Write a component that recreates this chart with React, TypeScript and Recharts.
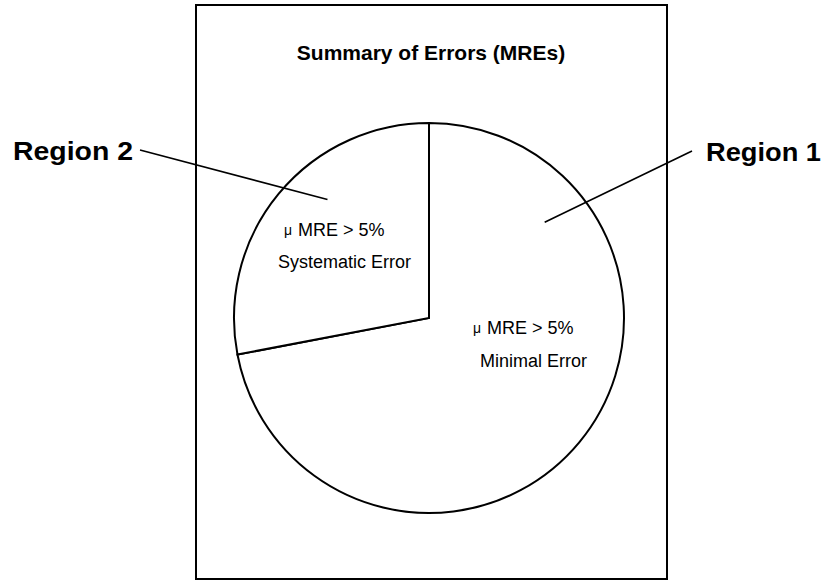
// Pie summary of MRE error regions, redrawn from a scanned figure
import { PieChart, Pie } from "recharts";

const regions = ["Region 1", "Region 2"];
const shares = [72, 28];
const criteria = ["MRE > 5%", "MRE > 5%"];
const descriptions = ["Minimal Error", "Systematic Error"];

const data = regions.map((name, i) => ({
  name,
  value: shares[i],
  criterion: criteria[i],
  description: descriptions[i],
}));

const FONT = '"Liberation Sans", Arial, Helvetica, sans-serif';

// polar point in screen space, angle in degrees counter-clockwise from 3 o'clock
function polar(cx: number, cy: number, r: number, deg: number) {
  const a = (deg * Math.PI) / 180;
  return { x: cx + r * Math.cos(a), y: cy - r * Math.sin(a) };
}

function RegionLabel(props: any) {
  const { cx, cy, outerRadius, index, payload } = props;
  const item = payload?.payload ?? payload ?? data[index];
  const left = index === 1;

  // leader line runs from inside the slice out to the region name
  const inner = left
    ? polar(cx, cy, outerRadius * 0.8, 130.6)
    : polar(cx, cy, outerRadius * 0.77, 39.6);
  const outer = left ? { x: 140, y: 150 } : { x: 692, y: 151 };
  const textX = left ? 133 : 706;
  const textY = left ? 151 : 152;

  // the two description lines inside each slice
  const critX = left ? cx - 145 : cx + 44;
  const critY = left ? cy - 88 : cy + 10;
  const descX = left ? cx - 151 : cx + 51;
  const descY = left ? cy - 56 : cy + 43;

  return (
    <g>
      <line x1={inner.x} y1={inner.y} x2={outer.x} y2={outer.y} stroke="#000" strokeWidth={1.6} />
      <text
        x={textX}
        y={textY}
        textAnchor={left ? "end" : "start"}
        dominantBaseline="central"
        fontFamily={FONT}
        fontWeight="bold"
        fontSize={25}
        textLength={left ? 120 : 115}
        lengthAdjust="spacingAndGlyphs"
        fill="#000"
      >
        {item.name}
      </text>
      <text x={critX} y={critY} dominantBaseline="central" fontFamily={FONT} fontSize={18} fill="#000">
        <tspan fontSize={14}>μ</tspan>
        <tspan dx={6}>{item.criterion}</tspan>
      </text>
      <text x={descX} y={descY} dominantBaseline="central" fontFamily={FONT} fontSize={18} fill="#000">
        {item.description}
      </text>
    </g>
  );
}

export default function App() {
  return (
    <div style={{ position: "absolute", left: 0, top: 0, background: "#fff" }}>
      <PieChart width={825} height={581} margin={{ top: 0, right: 0, bottom: 0, left: 0 }}>
        <rect x={196} y={5} width={471} height={574} fill="none" stroke="#000" strokeWidth={2} />
        <text
          x={431}
          y={52}
          textAnchor="middle"
          dominantBaseline="central"
          fontFamily={FONT}
          fontWeight="bold"
          fontSize={21}
          fill="#000"
        >
          Summary of Errors (MREs)
        </text>
        <Pie
          data={data}
          dataKey="value"
          nameKey="name"
          cx={429}
          cy={318}
          outerRadius={195}
          startAngle={90}
          endAngle={-270}
          fill="#fff"
          stroke="#000"
          strokeWidth={2}
          label={RegionLabel}
          labelLine={false}
          isAnimationActive={false}
        />
      </PieChart>
    </div>
  );
}
